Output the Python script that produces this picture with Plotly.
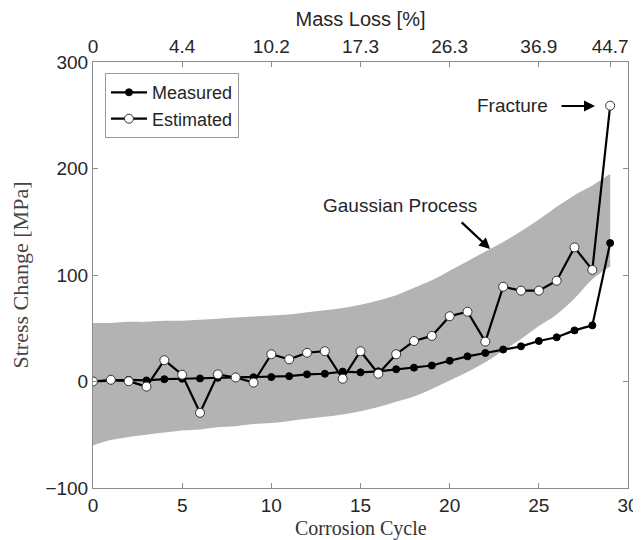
import plotly.graph_objects as go

cycles = list(range(30))
measured = [0, 1, 1.5, 1, 2.2, 2.6, 2.9, 3.5, 3.8, 4, 4.2, 5, 6.7, 7.3, 9.3, 8.6, 9.6, 11.5,
            13, 15, 19.5, 23.6, 26.8, 30, 33, 38, 41.5, 48, 52.7, 130]
estimated = [0, 1.6, 0.3, -4.8, 20, 6.4, -29.4, 6.7, 3.8, -1, 25.6, 20.8, 27, 28.4, 2.6, 28.4,
             7.3, 25.6, 38, 42.8, 61.3, 65.5, 37.4, 89, 85.3, 85.3, 94.6, 125.9, 104.8, 259]
gp_upper = [55, 55, 56, 56, 57, 57, 58, 59, 60, 61, 62, 63, 65, 67, 69, 72, 76, 81,
            88, 95, 104, 113, 122, 131, 141, 152, 164, 175, 184, 195]
gp_lower = [-60, -55, -52, -50, -48, -46, -45, -43, -42, -40, -39, -37, -35, -33, -31, -28,
            -24, -19, -14, -7, 1, 9, 18, 29, 40, 52, 63, 78, 96, 108]

bottom_ticks = [0, 5, 10, 15, 20, 25, 30]
left_ticks = [-100, 0, 100, 200, 300]
top_tickvals = [0, 5, 10, 15, 20, 25, 29]
top_ticktext = ["0", "4.4", "10.2", "17.3", "26.3", "36.9", "44.7"]

GRAY_BAND = "#b3b3b3"
AX = "#8c8c8c"
TXT = "#262626"
SANS = "Liberation Sans, Arial, sans-serif"
SERIF = "Liberation Serif, DejaVu Serif, serif"

fig = go.Figure()
fig.add_trace(go.Scatter(x=cycles, y=gp_upper, mode="lines", line=dict(width=0, color=GRAY_BAND, shape="spline"),
                         showlegend=False, hoverinfo="skip"))
fig.add_trace(go.Scatter(x=cycles, y=gp_lower, mode="lines", line=dict(width=0, color=GRAY_BAND, shape="spline"),
                         fill="tonexty", fillcolor=GRAY_BAND, showlegend=False, hoverinfo="skip"))
fig.add_trace(go.Scatter(x=cycles, y=measured, mode="lines+markers", name="Measured",
                         line=dict(color="black", width=2.2),
                         marker=dict(symbol="circle", size=7, color="black", line=dict(color="black", width=1))))
fig.add_trace(go.Scatter(x=cycles, y=estimated, mode="lines+markers", name="Estimated",
                         line=dict(color="black", width=2.2),
                         marker=dict(symbol="circle", size=9, color="white", line=dict(color="#333333", width=1))))
# invisible trace to anchor the top axis
fig.add_trace(go.Scatter(x=[0, 30], y=[0, 0], xaxis="x2", mode="markers",
                         marker=dict(opacity=0), showlegend=False, hoverinfo="skip"))

# margins compensate for the 8px default body margin of the html page
fig.update_layout(
    width=641, height=540,
    margin=dict(l=85, r=21, t=54, b=60),
    paper_bgcolor="white", plot_bgcolor="white",
    font=dict(family=SANS, size=19, color=TXT),
    xaxis=dict(range=[0, 30], tickvals=bottom_ticks, ticks="inside", ticklen=5, tickcolor=AX,
               showline=True, linecolor=AX, linewidth=1, mirror=True, showgrid=False, zeroline=False,
               automargin=False,
               tickfont=dict(family=SANS, size=19, color=TXT)),
    xaxis2=dict(range=[0, 30], overlaying="x", side="top", tickvals=top_tickvals, ticktext=top_ticktext,
                ticks="inside", ticklen=5, tickcolor=AX, showline=False, showgrid=False, zeroline=False,
                automargin=False, ticklabelstandoff=4,
                tickfont=dict(family=SANS, size=19, color=TXT),
                title=dict(text="Mass Loss [%]", font=dict(family=SANS, size=20, color=TXT), standoff=4)),
    yaxis=dict(range=[-100, 300], tickvals=left_ticks, ticks="inside", ticklen=5, tickcolor=AX,
               showline=True, linecolor=AX, linewidth=1, mirror="ticks", showgrid=False, zeroline=False,
               automargin=False,
               tickfont=dict(family=SANS, size=19, color=TXT),
               title=dict(text="Stress Change [MPa]", font=dict(family=SERIF, size=22, color="#444444"), standoff=10)),
    legend=dict(x=0.0224, y=0.974, xanchor="left", yanchor="top", bordercolor="#999999", borderwidth=1,
                bgcolor="white", font=dict(family=SANS, size=18, color=TXT), tracegroupgap=0,
                traceorder="normal", itemwidth=36),
    showlegend=True,
)

fig.add_annotation(x=0.5, y=-0.0634, xref="paper", yref="paper", text="Corrosion Cycle", showarrow=False,
                   xanchor="center", yanchor="top", font=dict(family=SERIF, size=20, color="#333333"))
fig.add_annotation(x=28.15, y=258.7, xref="x", yref="y", text="", showarrow=True,
                   arrowhead=2, arrowsize=1, arrowwidth=2.2, arrowcolor="black", ax=-35, ay=0)
fig.add_annotation(x=23.5, y=259, xref="x", yref="y", text="Fracture", showarrow=False,
                   font=dict(family=SANS, size=19, color=TXT))
fig.add_annotation(x=22.27, y=124.4, xref="x", yref="y", text="", showarrow=True,
                   arrowhead=2, arrowsize=1, arrowwidth=2.2, arrowcolor="black", ax=-30, ay=-28)
fig.add_annotation(x=17.2, y=165.7, xref="x", yref="y", text="Gaussian Process", showarrow=False,
                   font=dict(family=SANS, size=19, color=TXT))

fig.write_html("out.html")
